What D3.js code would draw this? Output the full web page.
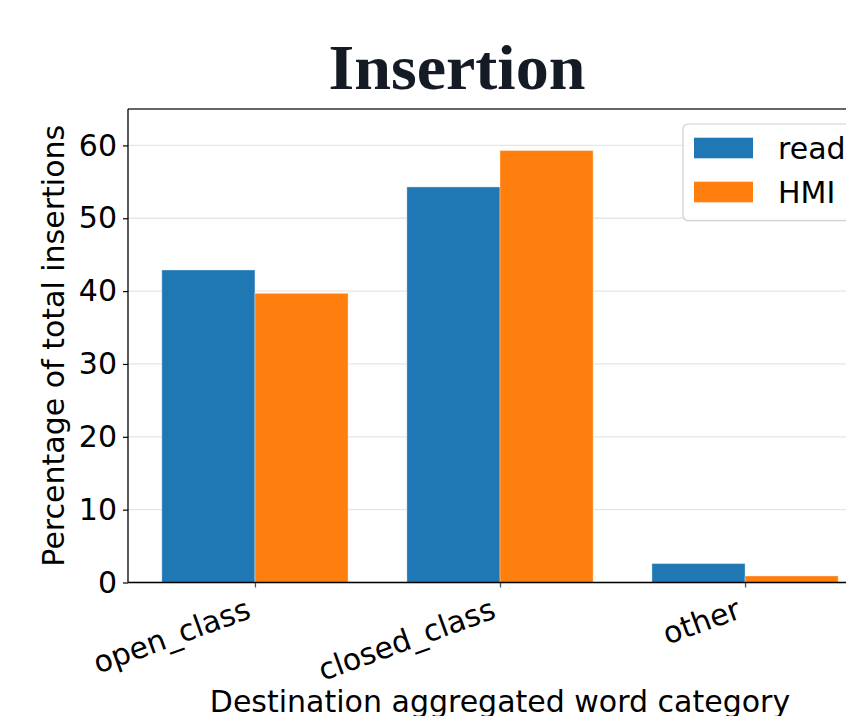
<!DOCTYPE html>
<html>
<head>
<meta charset="utf-8">
<script src="https://cdn.jsdelivr.net/npm/d3@7"></script>
<style>
  html, body { margin: 0; padding: 0; background: #fff; }
  svg { display: block; }
</style>
</head>
<body>
<svg id="chart" width="846" height="716"></svg>
<script>
const categories = ["open_class", "closed_class", "other"];
const seriesNames = ["read", "HMI"];
const readValues = [42.9, 54.3, 2.6];
const hmiValues = [39.7, 59.3, 0.9];
const yTicks = [0, 10, 20, 30, 40, 50, 60];
const colors = ["#1f77b4", "#ff7f0e"];
const series = [readValues, hmiValues];

(function () {
const svg = d3.select("#chart");
const pLeft = 128, pRight = 872, pTop = 109, pBottom = 582.5;
const barW = 0.38;
const FS = 30;
const SANS = '"DejaVu Sans", sans-serif';

const x = d3.scaleLinear().domain([-0.518, 2.518]).range([pLeft, pRight]);
const y = d3.scaleLinear().domain([0, 65]).range([pBottom, pTop]);

// grid
svg.append("g").selectAll("line").data(yTicks).join("line")
  .attr("x1", pLeft).attr("x2", pRight)
  .attr("y1", d => y(d)).attr("y2", d => y(d))
  .attr("stroke", "#e6e6e6").attr("stroke-width", 1.3);

// bars
series.forEach((vals, s) => {
  svg.append("g").selectAll("rect").data(vals).join("rect")
    .attr("x", (d, i) => x(i + (s === 0 ? -barW : 0)))
    .attr("width", x(barW) - x(0))
    .attr("y", d => y(d))
    .attr("height", d => y(0) - y(d))
    .attr("fill", colors[s])
    .attr("stroke", "#ffffff").attr("stroke-opacity", 0.35).attr("stroke-width", 1);
});

// y axis
const yAxis = svg.append("g").attr("transform", `translate(${pLeft},0)`)
  .call(d3.axisLeft(y).tickValues(yTicks).tickSize(5).tickPadding(6).tickFormat(d3.format("d")));
yAxis.select(".domain").remove();
yAxis.selectAll(".tick line").attr("stroke", "#000").attr("stroke-width", 1.2);
yAxis.selectAll(".tick text").style("font-size", FS + "px").style("font-family", SANS).attr("fill", "#000");

// x axis
const xAxis = svg.append("g").attr("transform", `translate(0,${pBottom})`)
  .call(d3.axisBottom(x).tickValues([0, 1, 2]).tickSize(5).tickFormat(i => categories[i]));
xAxis.select(".domain").remove();
xAxis.selectAll(".tick line").attr("stroke", "#555").attr("stroke-width", 1.3);
xAxis.selectAll(".tick text")
  .style("font-size", FS + "px").style("font-family", SANS).attr("fill", "#000")
  .attr("text-anchor", "end").attr("dy", null).attr("y", null)
  .attr("transform", "translate(-3,35) rotate(-20)");

// spines
svg.append("line").attr("x1", pLeft).attr("x2", pRight).attr("y1", pTop).attr("y2", pTop)
  .attr("stroke", "#333").attr("stroke-width", 1.3);
svg.append("line").attr("x1", pLeft).attr("x2", pLeft).attr("y1", pTop).attr("y2", pBottom)
  .attr("stroke", "#000").attr("stroke-width", 1.3);
svg.append("line").attr("x1", pLeft).attr("x2", pRight).attr("y1", pBottom).attr("y2", pBottom)
  .attr("stroke", "#000").attr("stroke-width", 1.3);

// axis labels
svg.append("text").attr("x", 500).attr("y", 712).attr("text-anchor", "middle")
  .style("font-size", FS + "px").style("font-family", SANS).attr("fill", "#000")
  .text("Destination aggregated word category");
svg.append("text").attr("transform", `translate(63.5,${(pTop + pBottom) / 2}) rotate(-90)`)
  .attr("text-anchor", "middle").style("font-size", FS + "px").style("font-family", SANS).attr("fill", "#000")
  .text("Percentage of total insertions");

// title
svg.append("text").attr("x", 457).attr("y", 89).attr("text-anchor", "middle")
  .style("font-family", '"Liberation Serif", "DejaVu Serif", serif').style("font-weight", "bold")
  .style("font-size", "64px").attr("fill", "#151b24")
  .attr("textLength", 257).attr("lengthAdjust", "spacingAndGlyphs")
  .text("Insertion");

// legend
const lg = svg.append("g");
lg.append("rect").attr("x", 683).attr("y", 124).attr("width", 190).attr("height", 96.7)
  .attr("rx", 5).attr("fill", "#fff").attr("fill-opacity", 0.8)
  .attr("stroke", "#d0d0d0").attr("stroke-width", 1.2);
seriesNames.forEach((name, i) => {
  const cy = 148 + i * 44;
  lg.append("rect").attr("x", 694).attr("y", cy - 10.3).attr("width", 59).attr("height", 20.6)
    .attr("fill", colors[i]);
  lg.append("text").attr("x", 778).attr("y", cy).attr("dy", "0.35em")
    .style("font-size", FS + "px").style("font-family", SANS).attr("fill", "#000").text(name);
});
})();
</script>
</body>
</html>
